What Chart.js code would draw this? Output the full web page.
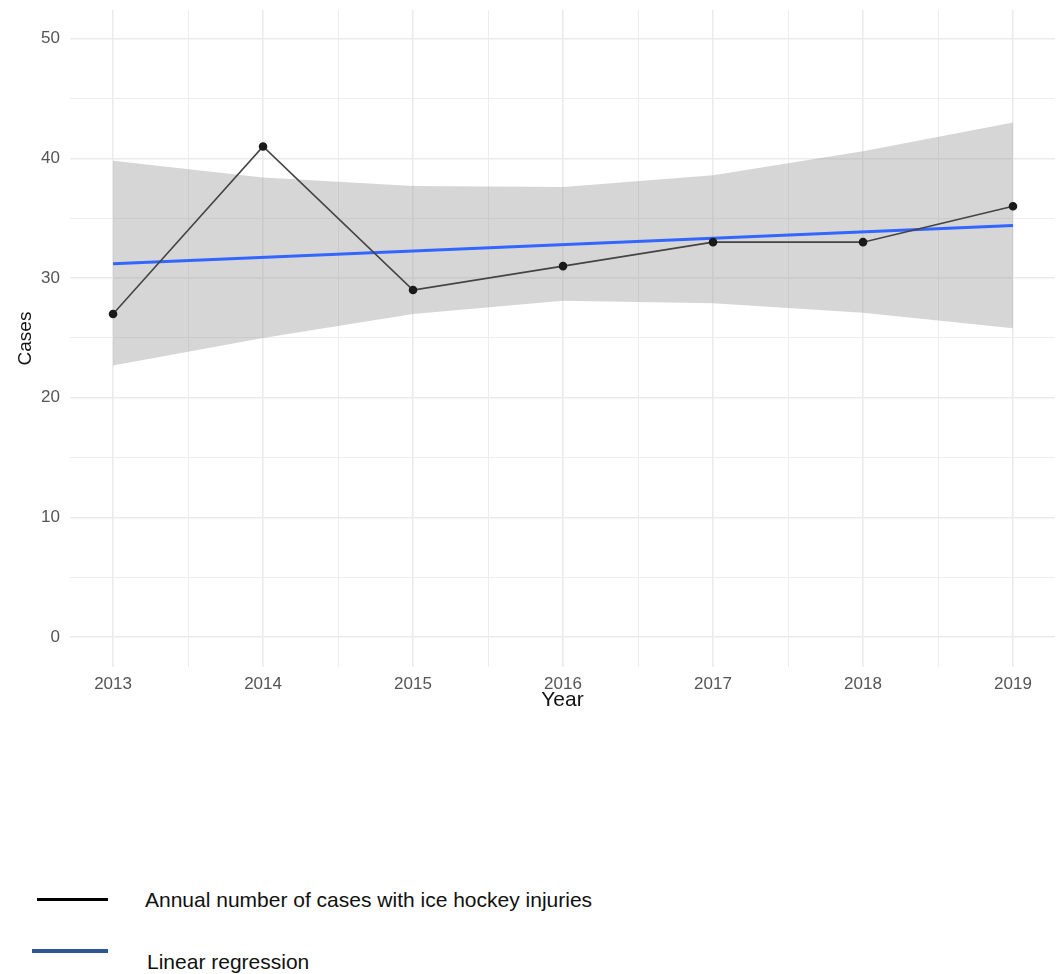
<!DOCTYPE html>
<html>
<head>
<meta charset="utf-8">
<script src="https://cdn.jsdelivr.net/npm/chart.js@4.4.0/dist/chart.umd.min.js"></script>
<style>
  body { margin: 0; background: #fff; font-family: "Liberation Sans", Arial, sans-serif; }
  #wrap { position: relative; width: 1063px; height: 974px; }
  #chartBox { position: absolute; left: 0; top: 0; width: 1063px; height: 720px; }
  .legend-item { position: absolute; font-size: 21px; color: #111; }
  .legend-line { position: absolute; }
</style>
</head>
<body>
<div id="wrap">
  <div id="chartBox"><canvas id="myChart"></canvas></div>
  <div class="legend-line" style="left:37px; top:898px; width:71px; height:3px; background:#000;"></div>
  <div class="legend-item" id="leg1" style="left:145px; top:888px;"></div>
  <div class="legend-line" style="left:32px; top:949px; width:76px; height:4px; background:#2f5597;"></div>
  <div class="legend-item" id="leg2" style="left:147px; top:950px;"></div>
</div>
<script>
const years = [2013, 2014, 2015, 2016, 2017, 2018, 2019];
const cases = [27, 41, 29, 31, 33, 33, 36];
const bandUpper = [39.8, 38.4, 37.7, 37.6, 38.6, 40.6, 43.0];
const bandLower = [22.7, 25.0, 27.0, 28.1, 27.9, 27.1, 25.8];
const regYears = [2013, 2019];
const regValues = [31.2, 34.4];
const yTicks = [0, 5, 10, 15, 20, 25, 30, 35, 40, 45, 50];
const xTicks = [2013, 2013.5, 2014, 2014.5, 2015, 2015.5, 2016, 2016.5, 2017, 2017.5, 2018, 2018.5, 2019];
const legendLabels = ["Annual number of cases with ice hockey injuries", "Linear regression"];

document.getElementById("leg1").textContent = legendLabels[0];
document.getElementById("leg2").textContent = legendLabels[1];

const toPoints = (xs, ys) => xs.map((x, i) => ({ x: x, y: ys[i] }));

const isMajor = (v) => Math.abs(v - Math.round(v)) < 1e-6;

const ctx = document.getElementById("myChart").getContext("2d");
const myChart = new Chart(ctx, {
  type: "line",
  data: {
    datasets: [
      {
        label: "lower",
        data: toPoints(years, bandLower),
        borderWidth: 0,
        pointRadius: 0,
        fill: false,
        order: 3,
      },
      {
        label: "upper",
        data: toPoints(years, bandUpper),
        borderWidth: 0,
        pointRadius: 0,
        backgroundColor: "rgba(153,153,153,0.4)",
        fill: "-1",
        order: 2,
      },
      {
        label: legendLabels[1],
        data: toPoints(regYears, regValues),
        borderColor: "#3366ff",
        borderWidth: 3,
        pointRadius: 0,
        fill: false,
        order: 1,
      },
      {
        label: legendLabels[0],
        data: toPoints(years, cases),
        borderColor: "#444444",
        borderWidth: 1.6,
        pointRadius: 3.5,
        pointBackgroundColor: "#1a1a1a",
        pointBorderColor: "#1a1a1a",
        fill: false,
        order: 0,
      },
    ],
  },
  options: {
    responsive: true,
    maintainAspectRatio: false,
    animation: false,
    layout: { padding: { top: 10, right: 8, left: 0, bottom: 0 } },
    plugins: {
      legend: { display: false },
      tooltip: { enabled: false },
    },
    scales: {
      x: {
        type: "linear",
        min: 2012.713,
        max: 2019.28,
        afterBuildTicks: (scale) => {
          scale.ticks = xTicks.map((v) => ({ value: v }));
        },
        afterFit: (scale) => {
          scale.height = 53;
          scale.paddingLeft = 0;
          scale.paddingRight = 0;
        },
        border: { display: false },
        grid: {
          drawTicks: false,
          color: "#ebebeb",
          lineWidth: (c) => (isMajor(c.tick.value) ? 1.6 : 0.9),
        },
        ticks: {
          padding: 7,
          autoSkip: false,
          maxRotation: 0,
          color: "#555555",
          font: { family: "'Liberation Sans', Arial, sans-serif", size: 17 },
          callback: (v) => (isMajor(v) ? String(Math.round(v)) : ""),
        },
        title: {
          display: true,
          text: "Year",
          color: "#111",
          font: { family: "'Liberation Sans', Arial, sans-serif", size: 21 },
          padding: { top: 0, bottom: 7 },
        },
      },
      y: {
        min: -2.5,
        max: 52.4,
        afterBuildTicks: (scale) => {
          scale.ticks = yTicks.map((v) => ({ value: v }));
        },
        afterFit: (scale) => {
          scale.width = 70;
          scale.paddingTop = 0;
          scale.paddingBottom = 0;
        },
        border: { display: false },
        grid: {
          drawTicks: false,
          color: "#ebebeb",
          lineWidth: (c) => (c.tick.value % 10 === 0 ? 1.6 : 0.9),
        },
        ticks: {
          padding: 10,
          autoSkip: false,
          color: "#555555",
          font: { family: "'Liberation Sans', Arial, sans-serif", size: 17 },
          callback: (v) => (v % 10 === 0 ? String(v) : ""),
        },
        title: {
          display: true,
          text: "Cases",
          color: "#111",
          font: { family: "'Liberation Sans', Arial, sans-serif", size: 19 },
          padding: { top: 14, bottom: 0 },
        },
      },
    },
  },
});
</script>
</body>
</html>
